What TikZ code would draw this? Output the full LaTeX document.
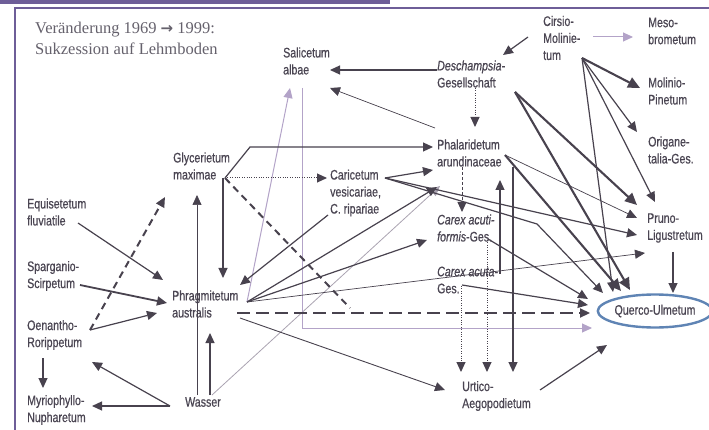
\documentclass[tikz,border=0pt]{standalone}
\usepackage{fontspec}
\usetikzlibrary{arrows.meta,shapes.geometric}
\newfontfamily\nf[FakeStretch=0.77,FakeBold=0.6]{Liberation Sans}
\newfontfamily\tf{Liberation Serif}
\newfontfamily\af{DejaVu Sans}
\definecolor{txt}{HTML}{4A4552}
\definecolor{ln}{HTML}{48424E}
\definecolor{lil}{HTML}{B3A3C8}
\definecolor{lgr}{HTML}{ABA4B2}
\definecolor{frm}{HTML}{6E5E98}
\definecolor{ell}{HTML}{5F84B4}
\begin{document}
\begin{tikzpicture}[x=1pt,y=-1pt,
  lab/.style={font=\nf\fontsize{13.8}{17}\selectfont, align=left, inner sep=0pt, anchor=west, text=txt},
  ar/.style={draw=ln, line width=1.2pt, -{Triangle[length=10pt,width=9pt]}},
  thk/.style={line width=2.1pt, -{Triangle[length=12pt,width=11pt]}},
  thn/.style={line width=0.7pt},
  lila/.style={draw=lil, line width=1pt, -{Triangle[length=10pt,width=9pt]}},
  lgra/.style={draw=lgr, line width=0.8pt},
  dsh/.style={dash pattern=on 7pt off 5pt, line width=2pt},
  ldsh/.style={dash pattern=on 13pt off 6pt, line width=2.2pt},
  fdsh/.style={dash pattern=on 3pt off 2pt, line width=0.9pt},
  dtt/.style={dash pattern=on 1pt off 1.4pt, line width=1pt}
]
\useasboundingbox (0,0) rectangle (709,430);
\fill[white] (0,0) rectangle (709,430);
\fill[frm] (0,0) rectangle (390,4.5);
\draw[frm,line width=2pt] (14,8.5)--(709,8.5);
\draw[frm,line width=2.5pt] (15,8)--(15,430);

% title
\node[font=\tf\fontsize{16.5}{21}\selectfont, text=txt!85, align=left, anchor=west, inner sep=0pt] (title) at (35,38) {Veränderung 1969 {\af\bfseries\fontsize{15}{21}\selectfont →} 1999:\\Sukzession auf Lehmboden};

% nodes
\node[lab] (sal) at (283,61) {Salicetum\\albae};
\node[lab] (des) at (437,74) {{\itshape Deschampsia-}\\Gesellschaft};
\node[lab] (cir) at (543,38) {Cirsio-\\Molinie-\\tum};
\node[lab] (meso) at (648,31) {Meso-\\brometum};
\node[lab] (mol) at (648,91) {Molinio-\\Pinetum};
\node[lab] (ori) at (648,150) {Origane-\\talia-Ges.};
\node[lab] (pru) at (647,228) {Pruno-\\Ligustretum};
\node[ellipse, draw=ell, line width=2.4pt, minimum width=104pt, minimum height=33pt, inner sep=0pt,
      font=\nf\fontsize{13.8}{17}\selectfont, text=txt] (que) at (655,311) {Querco-Ulmetum};
\node[lab] (gly) at (173,166) {Glycerietum\\maximae};
\node[lab] (equ) at (27,212) {Equisetetum\\fluviatile};
\node[lab] (spa) at (27,276) {Sparganio-\\Scirpetum};
\node[lab] (oen) at (27,335) {Oenantho-\\Rorippetum};
\node[lab] (myr) at (27,410) {Myriophyllo-\\Nupharetum};
\node[lab] (phr) at (172,304) {Phragmitetum\\australis};
\node[lab] (was) at (185,402) {Wasser};
\node[lab] (car) at (330,193) {Caricetum\\vesicariae,\\C. ripariae};
\node[lab] (pha) at (437,153) {Phalaridetum\\arundinaceae};
\node[lab] (cacf) at (437,228) {{\itshape Carex acuti-}\\{\itshape formis}-Ges.};
\node[lab] (cact) at (437,280) {{\itshape Carex acuta-}\\Ges.};
\node[lab] (urt) at (462,396) {Urtico-\\Aegopodietum};

% start coordinates
\coordinate (cirA) at (582,58);
\coordinate (cirB) at (528,37);
\coordinate (cirC) at (593,37);
\coordinate (desA) at (515,92);
\coordinate (desL) at (437,70);
\coordinate (desD) at (475,88);
\coordinate (phaR) at (505,155);
\coordinate (phaL) at (435,128);
\coordinate (phaB1) at (462,167);
\coordinate (phaB2) at (513,167);
\coordinate (carR) at (385,178);
\coordinate (carB) at (328,215);
\coordinate (carK) at (537,224);
\coordinate (glyJ) at (225,178);
\coordinate (glyV) at (223,178);
\coordinate (glyK) at (250,147);
\coordinate (glyD) at (350,308);
\coordinate (oenA) at (90,330);
\coordinate (oenB) at (43,358);
\coordinate (equA) at (78,223);
\coordinate (spaA) at (80,285);
\coordinate (wasA) at (170,406);
\coordinate (wasU1) at (210,395);
\coordinate (wasU2) at (197,395);
\coordinate (wasU3) at (212,395);
\coordinate (phrA) at (247,302);
\coordinate (phrD) at (237,313);
\coordinate (phrE) at (240,318);
\coordinate (salB) at (302,88);
\coordinate (salK) at (302,328);
\coordinate (cacfB) at (487,240);
\coordinate (cacfR) at (488,239);
\coordinate (cactB) at (461,286);
\coordinate (cactU) at (500,274);
\coordinate (cactR) at (462,285);
\coordinate (urtR) at (540,390);
\coordinate (pruB) at (673,252);
% target coordinates
\coordinate (desT) at (503,55);
\coordinate (mesoT) at (633,37);
\coordinate (molT) at (640,88);
\coordinate (oriT) at (637,132);
\coordinate (pruT1) at (655,202);
\coordinate (queT1) at (613,292);
\coordinate (salT1) at (330,70);
\coordinate (salT2) at (330,88);
\coordinate (salT3) at (290,88);
\coordinate (phaT1) at (475,127);
\coordinate (pruT2) at (637,205);
\coordinate (queT2) at (630,290);
\coordinate (pruT3) at (637,218);
\coordinate (queT3) at (621,291);
\coordinate (cacfT) at (462,212);
\coordinate (urtT1) at (513,372);
\coordinate (phaT2) at (433,170);
\coordinate (pruT4) at (637,235);
\coordinate (queT4) at (603,293);
\coordinate (phrT1) at (240,285);
\coordinate (phaT3) at (433,147);
\coordinate (carT) at (327,178);
\coordinate (phrT2) at (223,278);
\coordinate (glyT1) at (165,197);
\coordinate (phrT3) at (157,313);
\coordinate (phrT4) at (163,280);
\coordinate (phrT5) at (167,303);
\coordinate (myrT1) at (43,388);
\coordinate (myrT2) at (92,406);
\coordinate (oenT) at (92,362);
\coordinate (phrT6) at (210,333);
\coordinate (glyT2) at (197,195);
\coordinate (phaT4) at (440,186);
\coordinate (phaT5) at (437,187);
\coordinate (cacfT2) at (427,240);
\coordinate (pruT5) at (645,253);
\coordinate (queT5) at (590,313);
\coordinate (urtT2) at (445,390);
\coordinate (queT6) at (592,328);
\coordinate (urtT3) at (487,372);
\coordinate (queT7) at (588,299);
\coordinate (urtT4) at (461,372);
\coordinate (phaT6) at (500,180);
\coordinate (queT8) at (588,305);
\coordinate (queT9) at (607,345);
\coordinate (queT10) at (673,293);

% light connectors
\draw[lgra, -{Triangle[length=10pt,width=9pt]}] (wasU3) -- (phaT4);
\draw[lila] (phrA) -- (salT3);
\draw[lila] (salB) -- (salK) -- (queT6);
\draw[lila] (cirC) -- (mesoT);

% Cirsio
\draw[ar] (cirB) -- (desT);
\draw[ar, thk] (cirA) -- (molT);
\draw[ar] (cirA) -- (oriT);
\draw[ar] (cirA) -- (pruT1);
\draw[ar] (cirA) -- (queT1);
% Deschampsia
\draw[ar] (desL) -- (salT1);
\draw[ar, dtt] (desD) -- (phaT1);
\draw[ar, thk] (desA) -- (pruT2);
\draw[ar, thk] (desA) -- (queT2);
% Phalaridetum
\draw[ar, thn] (phaL) -- (salT2);
\draw[ar, thn] (phaR) -- (pruT3);
\draw[ar, thk] (phaR) -- (queT3);
\draw[ar, fdsh] (phaB1) -- (cacfT);
\draw[ar] (phaB2) -- (urtT1);
% Caricetum
\draw[ar] (carR) -- (phaT2);
\draw[ar] (carR) -- (pruT4);
\draw[ar] (carR) -- (carK) -- (queT4);
\draw[ar] (carB) -- (phrT1);
% Glycerietum
\draw[ar] (glyJ) -- (glyK) -- (phaT3);
\draw[ar, dtt] (glyJ) -- (carT);
\draw[draw=ln, dsh] (glyJ) -- (glyD);
\draw[ar] (glyV) -- (phrT2);
% left side
\draw[ar, dsh] (oenA) -- (glyT1);
\draw[ar] (oenA) -- (phrT3);
\draw[ar] (equA) -- (phrT4);
\draw[ar, line width=1.8pt] (spaA) -- (phrT5);
\draw[ar] (oenB) -- (myrT1);
% Wasser
\draw[ar] (wasA) -- (myrT2);
\draw[ar] (wasA) -- (oenT);
\draw[ar] (wasU1) -- (phrT6);
\draw[ar, thn] (wasU2) -- (glyT2);
% Phragmitetum
\draw[ar] (phrA) -- (phaT5);
\draw[ar] (phrA) -- (cacfT2);
\draw[ar, thn] (phrA) -- (pruT5);
\draw[ar, ldsh] (phrD) -- (queT5);
\draw[ar, line width=0.9pt] (phrE) -- (urtT2);
% Carex
\draw[ar, dtt] (cacfB) -- (urtT3);
\draw[ar] (cacfR) -- (queT7);
\draw[ar, dtt] (cactB) -- (urtT4);
\draw[ar] (cactU) -- (phaT6);
\draw[ar] (cactR) -- (queT8);
% to Querco
\draw[ar] (urtR) -- (queT9);
\draw[ar] (pruB) -- (queT10);
\end{tikzpicture}
\end{document}
